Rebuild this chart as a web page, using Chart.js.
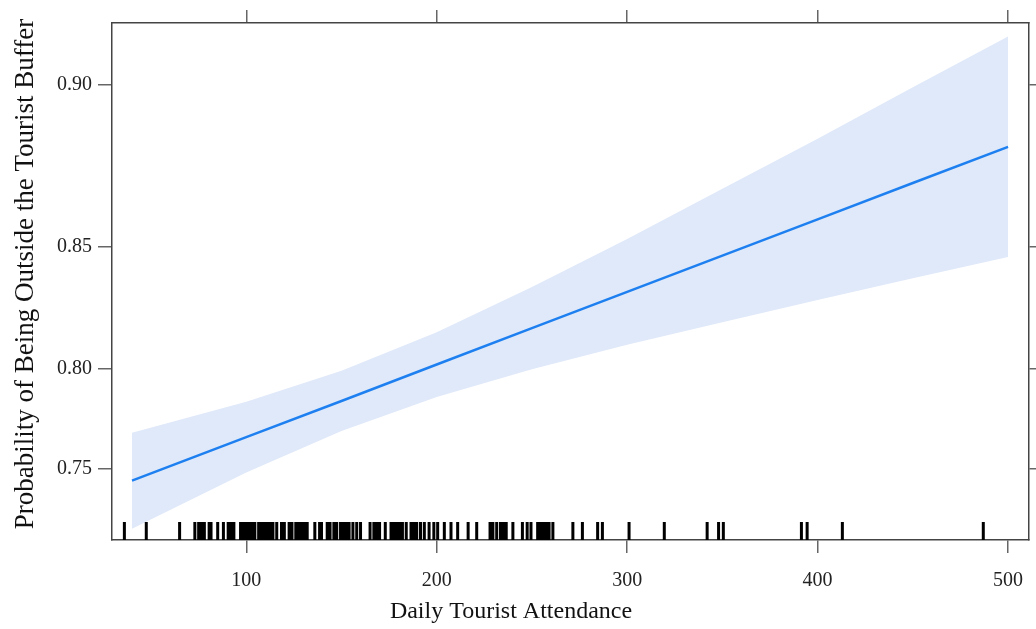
<!DOCTYPE html>
<html>
<head>
<meta charset="utf-8">
<script src="https://cdn.jsdelivr.net/npm/chart.js@4.4.1/dist/chart.umd.min.js"></script>
<style>
  body { margin: 0; background: #fff; }
  #wrap { width: 1036px; height: 629px; }
</style>
</head>
<body>
<div id="wrap"><canvas id="effectChart"></canvas></div>
<script>
// fitted effect of attendance (probabilities)
const attendance = [40, 100, 150, 200, 250, 300, 350, 400, 450, 500];
const fitProb = [0.7437, 0.7667, 0.7847, 0.8018, 0.8178, 0.8328, 0.8467, 0.8597, 0.8718, 0.8829];
const upperProb = [0.7690, 0.7843, 0.7990, 0.8161, 0.8347, 0.8528, 0.8699, 0.8853, 0.8994, 0.9118];
const lowerProb = [0.7166, 0.7481, 0.7698, 0.7866, 0.7996, 0.8106, 0.8203, 0.8295, 0.8381, 0.8462];

const xTickLabels = [100, 200, 300, 400, 500];
const yTickLabels = [0.75, 0.80, 0.85, 0.90];

// observed attendance values (rug)
const rugValues = [36, 47.5, 65, 73, 75, 76.5, 78, 80.5, 81.5, 85, 88, 90.5, 92, 93.5, 97, 98, 99, 100,
    101.5, 103, 104.5, 106.5, 108, 109.5, 111, 112.5, 114, 116, 118.5, 120, 122.5, 124, 126, 127.5,
    129, 130.5, 132, 136, 138.5, 139.5, 142.5, 144, 146, 147.5, 149.5, 151, 152.5, 154, 156, 158,
    160, 165, 167, 168.5, 170, 173, 176, 177.5, 179, 180.5, 182, 184, 186.5, 188, 189.5, 191.5,
    193.5, 196, 198.5, 200.5, 204, 207.5, 211, 216.5, 221, 228, 229.5, 231.5, 233.5, 235, 236.5,
    240, 245, 247.5, 249.5, 253, 254.5, 256, 257.5, 259, 261, 271.5, 276.5, 284.5, 287, 301,
    319.5, 342, 348, 350.5, 391.5, 394.5, 413, 487];

const xTitle = 'Daily Tourist Attendance';
const yTitle = 'Probability of Being Outside the Tourist Buffer';

// y axis is on the logit scale, like the effects plot
const logit = p => Math.log(p / (1 - p));
const invLogit = z => 1 / (1 + Math.exp(-z));

const toPoints = probs => attendance.map((x, i) => ({ x: x, y: logit(probs[i]) }));

const X_MIN = 29.5, X_MAX = 511;
const Y_MIN = 0.8955, Y_MAX = 2.3746;

const serif = '"Liberation Serif", "Times New Roman", serif';
const frameColor = '#444';
const tickColor = '#666';

const rugPlugin = {
    id: 'rug',
    afterDatasetsDraw(chart) {
        const ctx = chart.ctx;
        const xs = chart.scales.x;
        const bottom = chart.chartArea.bottom;
        ctx.save();
        ctx.strokeStyle = '#000';
        ctx.lineWidth = 3;
        ctx.beginPath();
        rugValues.forEach(v => {
            const px = xs.getPixelForValue(v);
            ctx.moveTo(px, bottom - 18);
            ctx.lineTo(px, bottom);
        });
        ctx.stroke();
        ctx.restore();
    }
};

// axis titles sit where lattice put them, a bit off the panel centre
const titlePlugin = {
    id: 'axisTitles',
    afterDraw(chart) {
        const ctx = chart.ctx;
        ctx.save();
        ctx.fillStyle = '#111';
        ctx.textAlign = 'center';

        ctx.font = '24px ' + serif;
        ctx.textBaseline = 'alphabetic';
        ctx.fillText(xTitle, 511, 618);

        ctx.font = '27px ' + serif;
        ctx.textBaseline = 'middle';
        ctx.translate(26, 274);
        ctx.rotate(-Math.PI / 2);
        ctx.fillText(yTitle, 0, 0);
        ctx.restore();
    }
};

function fixTicks(values) {
    return function(scale) {
        scale.ticks = values.map(v => ({ value: v }));
    };
}

function fitBox(w, h) {
    return function(scale) {
        if (w !== null) scale.width = w;
        if (h !== null) scale.height = h;
        scale.paddingLeft = 0;
        scale.paddingRight = 0;
        scale.paddingTop = 0;
        scale.paddingBottom = 0;
    };
}

const ctx = document.getElementById('effectChart').getContext('2d');
const effectChart = new Chart(ctx, {
    type: 'line',
    data: {
        datasets: [
            {
                label: 'upper',
                data: toPoints(upperProb),
                borderWidth: 0,
                pointRadius: 0,
                backgroundColor: 'rgb(224, 233, 249)',
                fill: '+1',
                order: 2
            },
            {
                label: 'lower',
                data: toPoints(lowerProb),
                borderWidth: 0,
                pointRadius: 0,
                fill: false,
                order: 2
            },
            {
                label: 'fit',
                data: toPoints(fitProb),
                borderColor: 'rgb(30, 128, 240)',
                borderWidth: 2.5,
                pointRadius: 0,
                fill: false,
                order: 1
            }
        ]
    },
    options: {
        responsive: true,
        maintainAspectRatio: false,
        animation: false,
        devicePixelRatio: 1,
        layout: { padding: 0 },
        plugins: {
            legend: { display: false },
            tooltip: { enabled: false }
        },
        scales: {
            x: {
                type: 'linear',
                position: 'bottom',
                min: X_MIN,
                max: X_MAX,
                afterBuildTicks: fixTicks(xTickLabels),
                afterFit: fitBox(null, 89),
                border: { display: true, color: frameColor, width: 1.5 },
                grid: { drawOnChartArea: false, drawTicks: true, tickLength: 13, color: tickColor, lineWidth: 1.5 },
                ticks: { font: { family: serif, size: 20 }, color: '#222', padding: 16, maxRotation: 0 }
            },
            xTop: {
                type: 'linear',
                position: 'top',
                min: X_MIN,
                max: X_MAX,
                afterBuildTicks: fixTicks(xTickLabels),
                afterFit: fitBox(null, 23),
                border: { display: true, color: frameColor, width: 1.5 },
                grid: { drawOnChartArea: false, drawTicks: true, tickLength: 13, color: tickColor, lineWidth: 1.5 },
                ticks: { display: false }
            },
            y: {
                type: 'linear',
                position: 'left',
                min: Y_MIN,
                max: Y_MAX,
                afterBuildTicks: fixTicks(yTickLabels.map(logit)),
                afterFit: fitBox(112, null),
                border: { display: true, color: frameColor, width: 1.5 },
                grid: { drawOnChartArea: false, drawTicks: true, tickLength: 14, color: tickColor, lineWidth: 1.5 },
                ticks: {
                    font: { family: serif, size: 20 },
                    color: '#222',
                    padding: 6,
                    callback: value => invLogit(value).toFixed(2)
                }
            },
            yRight: {
                type: 'linear',
                position: 'right',
                min: Y_MIN,
                max: Y_MAX,
                afterBuildTicks: fixTicks(yTickLabels.map(logit)),
                afterFit: fitBox(7, null),
                border: { display: true, color: frameColor, width: 1.5 },
                grid: { drawOnChartArea: false, drawTicks: true, tickLength: 7, color: tickColor, lineWidth: 1.5 },
                ticks: { display: false }
            }
        }
    },
    plugins: [rugPlugin, titlePlugin]
});
</script>
</body>
</html>
